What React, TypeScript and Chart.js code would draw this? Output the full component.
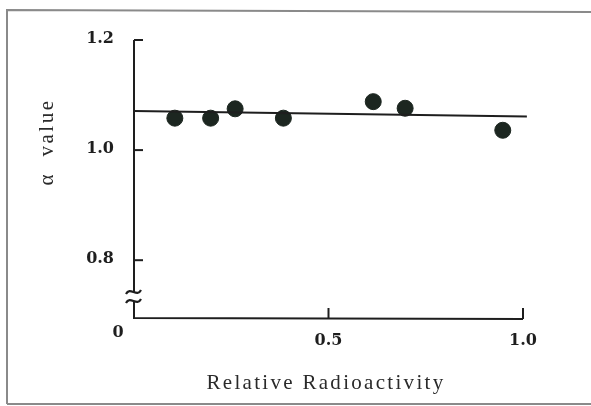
import React, { useEffect, useRef } from "react";
import { Chart, registerables } from "chart.js";

Chart.register(...registerables);

// Data
const radioactivity = [0.105, 0.197, 0.26, 0.384, 0.615, 0.697, 0.948];
const alphaValues = [1.058, 1.058, 1.075, 1.058, 1.088, 1.076, 1.036];
const fitX = [0, 1.01];
const fitY = [1.071, 1.061];
const yTickValues = [0.8, 1.0, 1.2];
const yTickLabels = ["0.8", "1.0", "1.2"];
const xTickValues = [0.5, 1.0];
const xTickLabels = ["0.5", "1.0"];
const xTitle = "Relative Radioactivity";
const yTitle = "α  value";

const INK = "#1e1e1e";

const axesPlugin = {
  id: "customAxes",
  afterDraw(chart: any) {
    const ctx = chart.ctx as CanvasRenderingContext2D;
    const xs = chart.scales.x;
    const ys = chart.scales.y;
    const x0 = xs.getPixelForValue(0);
    const yBottom = ys.getPixelForValue(ys.min);
    const yTop = ys.getPixelForValue(1.2);
    ctx.save();

    // frame
    ctx.strokeStyle = "#8a8a8a";
    ctx.lineWidth = 2;
    ctx.beginPath();
    ctx.moveTo(7, 404);
    ctx.lineTo(7, 10);
    ctx.lineTo(591, 12);
    ctx.moveTo(7, 404);
    ctx.lineTo(591, 404);
    ctx.stroke();

    ctx.strokeStyle = INK;
    ctx.lineWidth = 2;
    // y axis with break
    const brk1 = 292;
    const brk2 = 301;
    ctx.beginPath();
    ctx.moveTo(x0, yTop);
    ctx.lineTo(x0, brk1);
    ctx.moveTo(x0, brk2);
    ctx.lineTo(x0, yBottom);
    ctx.lineTo(xs.getPixelForValue(1.0), yBottom + 1);
    ctx.stroke();

    // break squiggles
    ctx.lineWidth = 2.2;
    [brk1, brk2].forEach((by) => {
      ctx.beginPath();
      ctx.moveTo(x0 - 8, by + 2);
      ctx.bezierCurveTo(x0 - 4, by - 6, x0 + 3, by + 6, x0 + 7, by - 2);
      ctx.stroke();
    });
    ctx.lineWidth = 2;

    // y ticks (inward) and labels
    ctx.font = "bold 16px 'DejaVu Serif', serif";
    ctx.fillStyle = INK;
    ctx.textAlign = "right";
    ctx.textBaseline = "middle";
    yTickValues.forEach((v, i) => {
      const py = ys.getPixelForValue(v);
      ctx.beginPath();
      ctx.moveTo(x0, py);
      ctx.lineTo(x0 + 9, py);
      ctx.stroke();
      ctx.fillText(yTickLabels[i], 114, py - 1);
    });

    // x ticks (upward) and labels
    ctx.textAlign = "center";
    ctx.textBaseline = "middle";
    xTickValues.forEach((v, i) => {
      const px = xs.getPixelForValue(v);
      ctx.beginPath();
      ctx.moveTo(px, yBottom + 1);
      ctx.lineTo(px, yBottom - 10);
      ctx.stroke();
      ctx.fillText(xTickLabels[i], px, 341);
    });
    ctx.fillText("0", 118, 333);

    // titles
    ctx.font = "21px 'Liberation Serif', serif";
    ctx.fillStyle = "#2a2a2a";
    (ctx as any).letterSpacing = "2.3px";
    ctx.textAlign = "center";
    ctx.fillText(xTitle, 326, 383);

    ctx.translate(47, 142);
    ctx.rotate(-Math.PI / 2);
    (ctx as any).letterSpacing = "2.5px";
    ctx.font = "21px 'Liberation Serif', serif";
    ctx.fillText(yTitle, 0, 0);
    ctx.restore();
  },
};

export default function App() {
  const ref = useRef<HTMLCanvasElement | null>(null);
  useEffect(() => {
    document.body.style.margin = "0";
    const canvas = ref.current;
    if (!canvas) return;
    const chart = new Chart(canvas, {
      type: "scatter",
      data: {
        datasets: [
          {
            type: "line",
            data: fitX.map((x, i) => ({ x, y: fitY[i] })),
            borderColor: INK,
            borderWidth: 2,
            pointRadius: 0,
            fill: false,
          } as any,
          {
            data: radioactivity.map((x, i) => ({ x, y: alphaValues[i] })),
            backgroundColor: "#1c2620",
            borderColor: "#1c2620",
            pointRadius: 8,
            pointHoverRadius: 8,
          },
        ],
      },
      options: {
        animation: false,
        responsive: false,
        maintainAspectRatio: false,
        layout: { padding: { left: 134, right: 68, top: 40, bottom: 88 } },
        plugins: { legend: { display: false }, tooltip: { enabled: false } },
        scales: {
          x: {
            type: "linear",
            min: 0,
            max: 1.0,
            display: false,
          },
          y: {
            type: "linear",
            min: 0.695,
            max: 1.2,
            display: false,
          },
        },
        clip: false as any,
      },
      plugins: [axesPlugin],
    });
    return () => chart.destroy();
  }, []);
  return (
    <div style={{ position: "absolute", left: 0, top: 0, width: 591, height: 406, background: "#fff" }}>
      <canvas ref={ref} width={591} height={406} style={{ width: 591, height: 406 }} />
    </div>
  );
}
